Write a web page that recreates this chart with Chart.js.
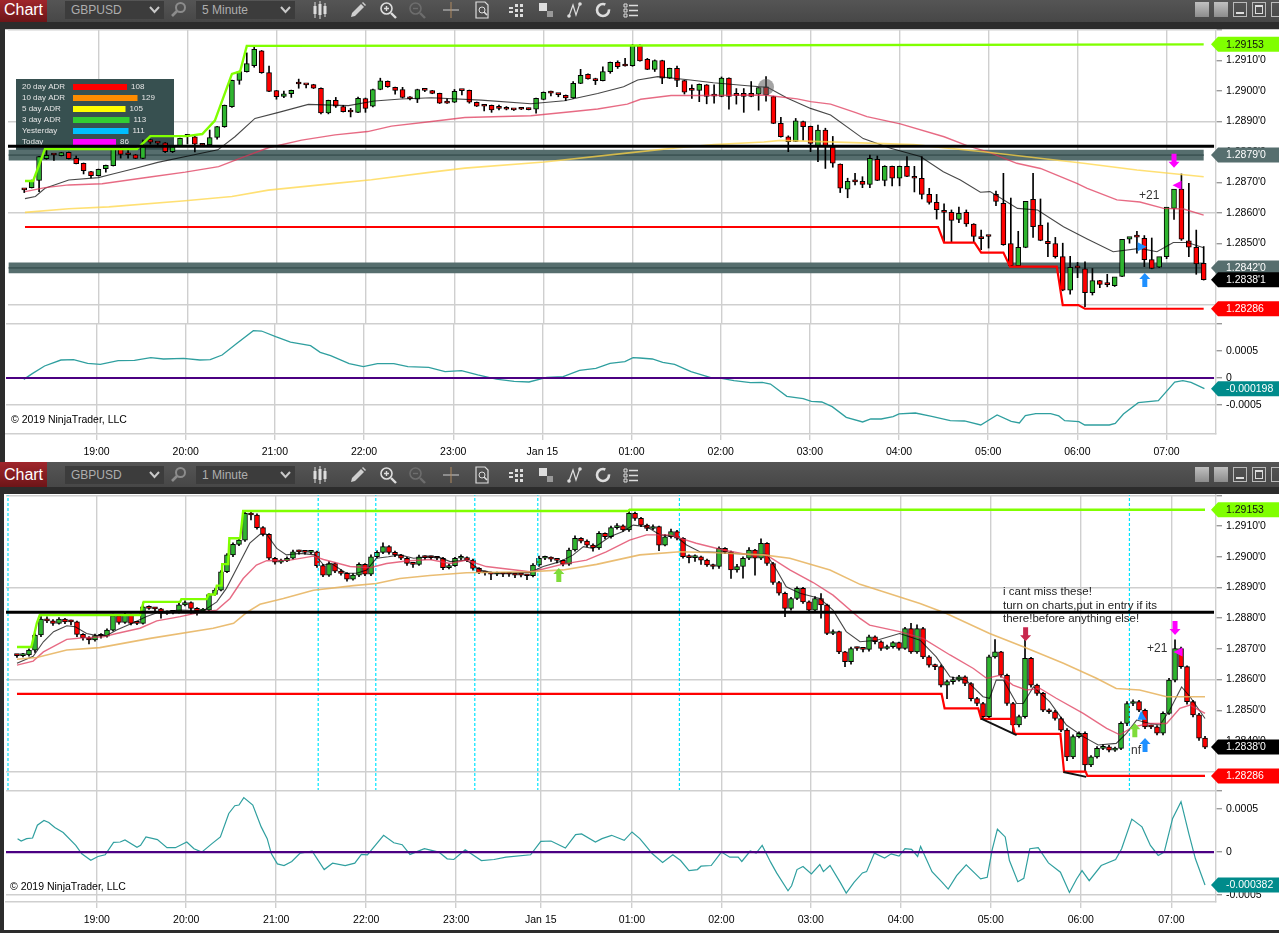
<!DOCTYPE html>
<html>
<head>
<meta charset="utf-8">
<title>GBPUSD</title>
<script src="https://cdn.jsdelivr.net/npm/chart.js@4/dist/chart.umd.js"></script>
<style>
  html, body { margin: 0; padding: 0; background: #2c2c2c; width: 1279px; height: 933px; overflow: hidden; font-family: "Liberation Sans", Arial, sans-serif; }
  .bar { position: absolute; left: 0; width: 1279px; background: linear-gradient(#555, #474747); }
  .chartBtn { position: absolute; left: 0; top: 0; bottom: 0; width: 47px; background: linear-gradient(#a0262c, #6d1518); color: #fff; font-size: 16px; text-align: center; }
  .sel { position: absolute; width: 99px; background: #3c3c3c; color: #aeaeae; font-size: 12px; box-sizing: border-box; padding-left: 6px; }
  .sel svg { position: absolute; right: 4px; top: 5px; }
  .ic { position: absolute; }
  .win { position: absolute; width: 14px; height: 15px; }
  .pane { position: absolute; background: #fff; }
  canvas { position: absolute; left: 0; }
</style>
</head>
<body>
<div class="bar" id="bar1" style="top:0;height:22px"></div>
<div class="bar" id="bar2" style="top:462px;height:25px"></div>
<div class="pane" style="left:5px;top:29px;width:1274px;height:433px;border-top:1px solid #ccc;box-sizing:border-box"></div>
<div class="pane" style="left:4px;top:494px;width:1275px;height:436px"></div>
<canvas id="topPrice" width="1279" height="318" style="top:18px"></canvas>
<canvas id="topOsc" width="1279" height="150" style="top:312px"></canvas>
<canvas id="botPrice" width="1279" height="320" style="top:483px"></canvas>
<canvas id="botOsc" width="1279" height="151" style="top:779px"></canvas>
<script>
// axis labels
const timeLabels = ["19:00","20:00","21:00","22:00","23:00","Jan 15","01:00","02:00","03:00","04:00","05:00","06:00","07:00"];
const topTimeTicks = [10,22,34,46,58,70,82,94,106,118,130,142,154];
const botTimeTicks = [13.3,28.2,43.2,58.2,73.2,87.3,102.5,117.4,132.3,147.3,162.3,177.3,192.4];
const priceTicks = [1.292,1.291,1.29,1.289,1.288,1.287,1.286,1.285,1.284,1.283];
const priceGrid = [1.292,1.289,1.286,1.283];
const hiddenPriceLabels = [1.292,1.283];

// top pane, 5 minute candles
const topOpen = [1.28678,1.28683,1.28707,1.28778,1.2879,1.28788,1.28799,1.28779,1.28763,1.28736,
1.28722,1.28745,1.28755,1.2881,1.28792,1.28791,1.28779,1.28841,1.2883,1.2883,
1.28801,1.28821,1.28852,1.2885,1.28827,1.28823,1.28848,1.28883,1.28949,1.29035,
1.29063,1.29083,1.29132,1.2906,1.29001,1.28982,1.28991,1.29024,1.29021,1.29021,
1.29009,1.28928,1.28969,1.28949,1.28932,1.2893,1.28975,1.2895,1.29005,1.29032,
1.29012,1.29005,1.28981,1.28973,1.29003,1.29001,1.28992,1.28963,1.28963,1.29002,
1.29002,1.28963,1.28951,1.28953,1.28944,1.28943,1.2894,1.28942,1.2894,1.2894,
1.28972,1.28995,1.2899,1.28986,1.28977,1.29025,1.29055,1.29041,1.29034,1.29063,
1.29094,1.29083,1.29083,1.2915,1.29104,1.29071,1.291,1.29042,1.29074,1.29034,
1.29003,1.29002,1.2902,1.28984,1.28982,1.29042,1.28992,1.28992,1.28992,1.2899,
1.29014,1.28982,1.28894,1.2885,1.28835,1.289,1.28884,1.2882,1.28872,1.28817,
1.2876,1.28678,1.28703,1.28704,1.28694,1.28776,1.28707,1.28753,1.28714,1.28753,
1.2872,1.28714,1.28661,1.28635,1.28609,1.28602,1.28579,1.28602,1.28564,1.28523,
1.28523,1.28661,1.28632,1.285,1.28427,1.28487,1.28645,1.2856,1.28507,1.285,
1.28457,1.28347,1.28421,1.28417,1.28339,1.28378,1.28366,1.28362,1.28392,1.28514,
1.28523,1.28517,1.28447,1.28422,1.28457,1.28615,1.28678,1.28509,1.28487,1.28435];
const topClose = [1.28676,1.28707,1.28785,1.28789,1.2879,1.28798,1.28778,1.28762,1.28739,1.28722,
1.28743,1.28756,1.2881,1.28792,1.28791,1.28779,1.28817,1.28832,1.28829,1.28801,
1.28817,1.28845,1.28851,1.28826,1.28822,1.28847,1.28883,1.28953,1.29035,1.29064,
1.2909,1.29137,1.2906,1.28999,1.28981,1.28991,1.29002,1.29023,1.2902,1.29009,
1.28928,1.28969,1.2895,1.28932,1.28931,1.28976,1.28943,1.29005,1.29033,1.29014,
1.29002,1.28979,1.28974,1.29005,1.29002,1.28992,1.2896,1.2896,1.28999,1.29001,
1.28963,1.2895,1.2895,1.28938,1.28943,1.2894,1.28938,1.2894,1.28939,1.28976,
1.28996,1.28993,1.28988,1.28977,1.29025,1.29051,1.2904,1.29034,1.29064,1.29094,
1.2908,1.29082,1.2915,1.29099,1.29071,1.291,1.29042,1.29074,1.29035,1.28996,
1.29002,1.29022,1.28982,1.28983,1.29042,1.28982,1.28985,1.28982,1.28982,1.29011,
1.28987,1.28894,1.2885,1.28834,1.28902,1.28883,1.28828,1.28872,1.2882,1.28763,
1.28681,1.28704,1.28702,1.28694,1.28779,1.28707,1.28753,1.28714,1.28753,1.2872,
1.28714,1.28661,1.28635,1.28611,1.28602,1.28576,1.28599,1.28564,1.28523,1.28516,
1.28523,1.28638,1.28496,1.28427,1.28487,1.28638,1.28555,1.2851,1.28499,1.28457,
1.28347,1.28422,1.2842,1.28339,1.28378,1.28366,1.28365,1.28391,1.28514,1.28523,
1.28521,1.28447,1.28418,1.28457,1.28619,1.28678,1.28514,1.28488,1.28433,1.28381];
const topHigh = [1.28679,1.28708,1.28786,1.2881,1.28792,1.28799,1.288,1.28787,1.28764,1.28737,
1.28744,1.28757,1.28811,1.28818,1.2881,1.28792,1.28839,1.28842,1.28831,1.28831,
1.28818,1.28846,1.28853,1.28851,1.28828,1.28872,1.28884,1.28954,1.29036,1.29065,
1.29125,1.29143,1.29133,1.29082,1.29002,1.29,1.29003,1.29039,1.29022,1.29022,
1.2901,1.2897,1.28979,1.28953,1.28943,1.2898,1.28977,1.29006,1.29042,1.29033,
1.29013,1.29012,1.28982,1.29006,1.29004,1.29002,1.28993,1.28974,1.29005,1.29003,
1.29003,1.28964,1.28952,1.28954,1.28954,1.28949,1.28941,1.28943,1.28944,1.28977,
1.28997,1.29,1.28991,1.28987,1.29031,1.29071,1.29056,1.29042,1.29079,1.29095,
1.29099,1.29107,1.29153,1.29152,1.29107,1.29102,1.29101,1.29075,1.29082,1.29035,
1.2902,1.29023,1.29021,1.2902,1.29046,1.29043,1.29008,1.29008,1.29031,1.29012,
1.29047,1.28983,1.28914,1.28853,1.2891,1.28901,1.28885,1.28888,1.28878,1.28851,
1.28761,1.28714,1.2873,1.28719,1.2879,1.28787,1.28755,1.28754,1.28754,1.28785,
1.28753,1.28785,1.28681,1.28661,1.2863,1.2861,1.28619,1.2861,1.28565,1.28544,
1.28525,1.28672,1.2873,1.28649,1.2854,1.28488,1.2873,1.28646,1.28568,1.2852,
1.28501,1.28458,1.28438,1.2844,1.28418,1.28379,1.28399,1.2838,1.28396,1.2852,
1.2854,1.28526,1.28518,1.28448,1.2848,1.2862,1.28728,1.28697,1.28544,1.2849];
const topLow = [1.28667,1.28682,1.2867,1.28776,1.28772,1.28787,1.28777,1.28761,1.28728,1.28715,
1.28721,1.28734,1.28754,1.2878,1.2878,1.28778,1.28778,1.28826,1.28819,1.28798,
1.28798,1.2882,1.28826,1.288,1.28821,1.28822,1.28842,1.28881,1.28946,1.29022,
1.29062,1.29078,1.29058,1.28998,1.28973,1.28978,1.28979,1.29009,1.2901,1.29008,
1.28925,1.28925,1.28946,1.28931,1.28915,1.28929,1.2893,1.28948,1.29004,1.29012,
1.2899,1.28977,1.28971,1.28962,1.28998,1.28991,1.28959,1.28959,1.28962,1.28987,
1.2896,1.28949,1.28935,1.2893,1.28938,1.28938,1.28936,1.28939,1.28938,1.28927,
1.28971,1.28984,1.28981,1.28968,1.28976,1.29024,1.29039,1.29021,1.29033,1.29058,
1.29074,1.29081,1.29081,1.29098,1.2907,1.29064,1.29024,1.29041,1.29014,1.2899,
1.28976,1.28965,1.28958,1.2896,1.28981,1.2894,1.28957,1.2893,1.28981,1.28937,
1.28967,1.28893,1.28849,1.28801,1.28834,1.28839,1.28801,1.28768,1.28746,1.2875,
1.28667,1.2865,1.28692,1.28683,1.28683,1.28706,1.28689,1.28689,1.28689,1.28719,
1.28669,1.28646,1.28629,1.2858,1.28506,1.28506,1.28568,1.28556,1.28506,1.2848,
1.28485,1.28624,1.28494,1.28425,1.28425,1.28486,1.2852,1.28509,1.28457,1.28452,
1.28345,1.28334,1.28388,1.28293,1.28331,1.28355,1.28358,1.28359,1.28391,1.28501,
1.28468,1.28424,1.28417,1.28421,1.2845,1.28579,1.2851,1.28457,1.28399,1.2838];

// top pane moving averages, x is the candle number
const topFastX = [0.1,1.5,2.8,6,10,11.8,14.9,18,22.1,26.1,28.4,31.1,34.3,38.3,43.7,47.2,50.8,54.9,61.6,68.3,72.8,77.3,80.8,82.7,85.4,89.8,92.9,97.5,100.2,102.9,106,108.7,113.1,116.8,120.8,123.9,126.2,128.9,130.2,133.9,136.6,140.1,143.3,146.8,150.4,152.7,154.9,156.8,159];
const topFastY = [1.28647,1.28654,1.28681,1.28708,1.28716,1.28727,1.28746,1.28766,1.28787,1.28807,1.2885,1.2891,1.2893,1.28956,1.28952,1.28967,1.28974,1.28978,1.2897,1.28958,1.28968,1.28992,1.29014,1.29036,1.29047,1.29036,1.29027,1.29017,1.29012,1.28976,1.28943,1.28921,1.28844,1.28812,1.28785,1.28735,1.28708,1.28668,1.2867,1.28615,1.2861,1.28555,1.28515,1.28473,1.28484,1.28473,1.28503,1.28503,1.28486];
const topMidX = [0.1,2.8,6,10.5,17.2,21.7,26.2,29.7,32.9,37.4,41.9,46.3,49.5,54.9,59.4,68.3,73.7,77.3,81.3,83.1,87.2,90.8,99.7,104.2,106,108.7,112,113.6,118.1,124,127.1,130.2,133.8,137,141.9,143.3,147.3,150.4,153.6,156.3,159];
const topMidY = [1.2867,1.28683,1.28692,1.28696,1.28719,1.28734,1.28752,1.28785,1.28814,1.28839,1.28856,1.28867,1.28885,1.289,1.28913,1.28919,1.28932,1.28941,1.28957,1.28973,1.28985,1.28985,1.28987,1.28974,1.28965,1.28957,1.2893,1.28916,1.28892,1.2885,1.28821,1.28798,1.28763,1.28746,1.28697,1.28681,1.28643,1.28636,1.28615,1.28613,1.28593];
const topSlowX = [0.1,6,11.4,21.7,28,32.9,41.9,46.8,54.9,59.4,70.1,81.8,88.1,93,99.7,102,112.8,119.9,129.3,142.8,150,159];
const topSlowY = [1.28602,1.28614,1.2862,1.2864,1.28654,1.28675,1.28697,1.28709,1.28734,1.28747,1.28767,1.28798,1.28814,1.28824,1.28833,1.28838,1.2883,1.28824,1.28801,1.28763,1.28741,1.28719];

// top pane levels
const topHighX = [0.1,1.2,2.8,15.2,17,21.9,24,25.7,28,29.1,30,81.6,159];
const topHighY = [1.28705,1.28705,1.2881,1.2881,1.28852,1.28852,1.28859,1.28903,1.29056,1.29064,1.29148,1.29149,1.29153];
const topLowX = [0.1,123.2,124,128.1,129,132,132.9,139.2,140,142.1,143,159];
const topLowY = [1.28554,1.28554,1.28503,1.28503,1.2847,1.2847,1.28424,1.28424,1.28298,1.28298,1.28286,1.28286];
const topBands = [1.2879,1.2842];
const topBlackLevel = 1.28819;
const topTouch = [100, 1.29013];

// top oscillator
const topOscX = [0.2,1.4,3,5.2,6.9,8.8,10.5,12.9,15.1,17.3,19,21.7,23.9,25.3,26.9,28.9,31.1,32.2,34.1,36.1,38.8,40.1,41.5,44,45.9,47.8,50,51.9,54.7,56.9,59.1,61.3,63.8,66.2,68.2,70.6,72.8,75,77.2,79.1,81.1,82.2,83.1,84.8,86.2,87.8,90,93,94.1,95.8,98,99.6,100.7,102.9,105.1,106.2,107.6,109,110.9,113.1,114.2,115.6,117.2,118,120.2,122.4,124.9,126.8,129,131.2,133.1,134.2,135,136.4,138.4,139.5,140.3,142.2,143,146.3,147.1,148.2,150.2,152.9,155.1,156.2,157.3,159.1];
const topOscY = [-0.000025,0.000086,0.000222,0.000333,0.000339,0.000271,0.000253,0.000321,0.000327,0.000376,0.000352,0.000364,0.000333,0.000339,0.000426,0.000642,0.000876,0.00087,0.000765,0.000666,0.000598,0.000475,0.000413,0.000265,0.00021,0.000265,0.000265,0.00021,0.000197,0.000117,0.000136,0.000056,-0.000019,-0.000062,-0.000074,0.000012,0.000025,0.000142,0.000179,0.000271,0.000302,0.000376,0.00037,0.000352,0.00029,0.000253,0.000117,-0.000006,-0.000006,-0.000049,-0.000086,-0.00008,-0.000111,-0.000339,-0.000383,-0.000432,-0.000444,-0.000531,-0.000728,-0.000814,-0.000759,-0.000759,-0.000716,-0.000666,-0.000648,-0.00071,-0.00079,-0.000796,-0.00087,-0.000685,-0.000802,-0.000833,-0.000697,-0.00066,-0.00066,-0.000703,-0.00079,-0.000808,-0.00087,-0.00087,-0.000839,-0.000666,-0.000457,-0.00042,-0.000074,-0.000049,-0.00008,-0.000198];

// ADR table in the top pane
const adrLabels = ["20 day ADR","10 day ADR","5 day ADR","3 day ADR","Yesterday","Today"];
const adrValues = [108,129,105,113,111,86];
const adrColors = ["#ff0000","#ff8c00","#ffff00","#32cd32","#00bfff","#ff00ff"];

// bottom pane, candles grouped from the 1 minute bars
const botOpen = [1.28678,1.28678,1.28680,1.28696,1.28745,1.28797,1.28791,1.28783,1.28797,1.28788,
1.28788,1.28747,1.28736,1.28729,1.28743,1.28741,1.28761,1.28808,1.28786,1.28812,
1.28783,1.28783,1.28837,1.28832,1.28830,1.28815,1.28819,1.28819,1.28843,1.28851,
1.28832,1.28823,1.28826,1.28877,1.28891,1.28951,1.29006,1.29040,1.29054,1.29141,
1.29136,1.29095,1.29073,1.28995,1.28982,1.28986,1.28995,1.29016,1.29016,1.29014,
1.29016,1.28971,1.28940,1.28978,1.28953,1.28946,1.28927,1.28940,1.28975,1.28943,
1.29000,1.29014,1.29033,1.29014,1.29006,1.28995,1.28978,1.28975,1.29000,1.28997,
1.28997,1.28995,1.28964,1.28971,1.28995,1.28997,1.28989,1.28962,1.28949,1.28947,
1.28943,1.28945,1.28943,1.28943,1.28940,1.28940,1.28938,1.28973,1.28995,1.28997,
1.28992,1.28988,1.28976,1.29022,1.29060,1.29051,1.29038,1.29029,1.29076,1.29065,
1.29095,1.29101,1.29087,1.29141,1.29125,1.29103,1.29092,1.29098,1.29038,1.29065,
1.29082,1.29060,1.29000,1.28997,1.29000,1.28989,1.28973,1.28968,1.29027,1.29016,
1.28957,1.28968,1.28995,1.29022,1.28995,1.29044,1.28978,1.28916,1.28881,1.28832,
1.28864,1.28897,1.28853,1.28826,1.28864,1.28843,1.28750,1.28756,1.28690,1.28658,
1.28701,1.28701,1.28698,1.28739,1.28723,1.28701,1.28707,1.28720,1.28701,1.28766,
1.28690,1.28766,1.28674,1.28647,1.28642,1.28582,1.28593,1.28598,1.28609,1.28587,
1.28538,1.28522,1.28479,1.28674,1.28690,1.28614,1.28522,1.28452,1.28479,1.28669,
1.28582,1.28555,1.28500,1.28495,1.28473,1.28435,1.28348,1.28414,1.28425,1.28322,
1.28348,1.28376,1.28381,1.28370,1.28376,1.28457,1.28522,1.28528,1.28500,1.28446,
1.28446,1.28425,1.28490,1.28598,1.28701,1.28642,1.28528,1.28485,1.28409];
const botClose = [1.28678,1.28680,1.28696,1.28745,1.28797,1.28791,1.28783,1.28797,1.28788,1.28788,
1.28747,1.28736,1.28729,1.28743,1.28741,1.28761,1.28808,1.28786,1.28812,1.28783,
1.28783,1.28837,1.28832,1.28830,1.28815,1.28819,1.28819,1.28843,1.28851,1.28832,
1.28823,1.28826,1.28877,1.28891,1.28951,1.29006,1.29040,1.29054,1.29141,1.29136,
1.29095,1.29073,1.28995,1.28982,1.28986,1.28995,1.29016,1.29016,1.29014,1.29016,
1.28971,1.28940,1.28978,1.28953,1.28946,1.28927,1.28940,1.28975,1.28943,1.29000,
1.29014,1.29033,1.29014,1.29006,1.28995,1.28978,1.28975,1.29000,1.28997,1.28997,
1.28995,1.28964,1.28971,1.28995,1.28997,1.28989,1.28962,1.28949,1.28947,1.28943,
1.28945,1.28943,1.28943,1.28940,1.28940,1.28938,1.28973,1.28995,1.28997,1.28992,
1.28988,1.28976,1.29022,1.29060,1.29051,1.29038,1.29029,1.29076,1.29065,1.29095,
1.29101,1.29087,1.29141,1.29125,1.29103,1.29092,1.29098,1.29038,1.29065,1.29082,
1.29060,1.29000,1.28997,1.29000,1.28989,1.28973,1.28968,1.29027,1.29016,1.28957,
1.28968,1.28995,1.29022,1.28995,1.29044,1.28978,1.28916,1.28881,1.28832,1.28864,
1.28897,1.28853,1.28826,1.28864,1.28843,1.28750,1.28756,1.28690,1.28658,1.28701,
1.28701,1.28698,1.28739,1.28723,1.28701,1.28707,1.28720,1.28701,1.28766,1.28690,
1.28766,1.28674,1.28647,1.28642,1.28582,1.28593,1.28598,1.28609,1.28587,1.28538,
1.28522,1.28479,1.28674,1.28690,1.28614,1.28522,1.28452,1.28479,1.28669,1.28582,
1.28555,1.28500,1.28495,1.28473,1.28435,1.28348,1.28414,1.28425,1.28322,1.28348,
1.28376,1.28381,1.28370,1.28376,1.28457,1.28522,1.28528,1.28500,1.28446,1.28446,
1.28425,1.28490,1.28598,1.28701,1.28642,1.28528,1.28485,1.28409,1.28380];
const botHigh = [1.28682,1.28685,1.28700,1.28750,1.28805,1.28804,1.28795,1.28802,1.28799,1.28794,
1.28790,1.28750,1.28740,1.28748,1.28750,1.28765,1.28813,1.28810,1.28818,1.28813,
1.28788,1.28850,1.28840,1.28835,1.28832,1.28824,1.28825,1.28848,1.28856,1.28853,
1.28834,1.28832,1.28880,1.28896,1.28955,1.29010,1.29045,1.29060,1.29148,1.29150,
1.29140,1.29098,1.29075,1.28998,1.28992,1.29000,1.29022,1.29022,1.29019,1.29020,
1.29018,1.28975,1.28984,1.28980,1.28958,1.28948,1.28945,1.28980,1.28978,1.29006,
1.29020,1.29045,1.29036,1.29018,1.29008,1.28998,1.28982,1.29005,1.29003,1.29002,
1.29000,1.28998,1.28976,1.28998,1.29006,1.29000,1.28992,1.28965,1.28953,1.28950,
1.28950,1.28948,1.28948,1.28946,1.28945,1.28943,1.28978,1.29002,1.29002,1.29000,
1.28994,1.28990,1.29028,1.29068,1.29062,1.29055,1.29042,1.29082,1.29078,1.29100,
1.29108,1.29104,1.29152,1.29145,1.29128,1.29106,1.29104,1.29100,1.29072,1.29090,
1.29086,1.29062,1.29006,1.29006,1.29002,1.28992,1.28976,1.29032,1.29030,1.29018,
1.28975,1.29000,1.29030,1.29024,1.29058,1.29046,1.28982,1.28920,1.28885,1.28868,
1.28902,1.28900,1.28856,1.28870,1.28880,1.28846,1.28762,1.28758,1.28692,1.28706,
1.28706,1.28704,1.28745,1.28742,1.28726,1.28712,1.28724,1.28722,1.28770,1.28783,
1.28778,1.28770,1.28678,1.28650,1.28648,1.28598,1.28608,1.28614,1.28612,1.28590,
1.28542,1.28526,1.28680,1.28730,1.28692,1.28618,1.28526,1.28484,1.28730,1.28672,
1.28585,1.28558,1.28505,1.28500,1.28478,1.28440,1.28420,1.28430,1.28430,1.28352,
1.28382,1.28388,1.28386,1.28380,1.28462,1.28528,1.28534,1.28532,1.28504,1.28452,
1.28450,1.28495,1.28604,1.28729,1.28706,1.28645,1.28532,1.28490,1.28415];
const botLow = [1.28672,1.28674,1.28676,1.28688,1.28740,1.28785,1.28776,1.28780,1.28782,1.28778,
1.28740,1.28728,1.28716,1.28725,1.28735,1.28738,1.28758,1.28780,1.28783,1.28778,
1.28779,1.28780,1.28828,1.28824,1.28800,1.28812,1.28814,1.28816,1.28840,1.28815,
1.28810,1.28820,1.28824,1.28874,1.28889,1.28948,1.29000,1.29036,1.29050,1.29120,
1.29090,1.29068,1.28990,1.28976,1.28978,1.28984,1.28992,1.29008,1.29008,1.29010,
1.28965,1.28935,1.28936,1.28948,1.28940,1.28920,1.28924,1.28935,1.28938,1.28938,
1.28996,1.29010,1.29008,1.29000,1.28990,1.28972,1.28965,1.28972,1.28990,1.28990,
1.28990,1.28958,1.28960,1.28968,1.28990,1.28984,1.28956,1.28945,1.28940,1.28925,
1.28938,1.28935,1.28936,1.28932,1.28934,1.28925,1.28934,1.28968,1.28990,1.28985,
1.28980,1.28970,1.28972,1.29018,1.29045,1.29032,1.29018,1.29024,1.29058,1.29060,
1.29090,1.29082,1.29082,1.29118,1.29098,1.29085,1.29088,1.29020,1.29035,1.29060,
1.29055,1.28995,1.28980,1.28985,1.28975,1.28968,1.28960,1.28962,1.29010,1.28929,
1.28950,1.28930,1.28990,1.28940,1.28990,1.28972,1.28910,1.28875,1.28805,1.28826,
1.28860,1.28848,1.28820,1.28820,1.28800,1.28746,1.28746,1.28684,1.28642,1.28650,
1.28695,1.28690,1.28692,1.28716,1.28695,1.28698,1.28702,1.28696,1.28698,1.28685,
1.28685,1.28668,1.28640,1.28632,1.28576,1.28538,1.28585,1.28595,1.28580,1.28530,
1.28515,1.28473,1.28476,1.28670,1.28608,1.28516,1.28424,1.28446,1.28474,1.28575,
1.28548,1.28495,1.28490,1.28468,1.28430,1.28336,1.28342,1.28410,1.28300,1.28316,
1.28344,1.28372,1.28364,1.28366,1.28372,1.28450,1.28515,1.28495,1.28440,1.28440,
1.28420,1.28420,1.28486,1.28592,1.28636,1.28520,1.28478,1.28402,1.28375];

// bottom pane moving averages
const botFastX = [0,2.7,4.4,6.1,8.3,9.7,11.6,13.3,14.9,16.6,19.4,21.6,23.8,27.2,31.1,33.3,34.9,37.2,38.8,40.5,41.6,43.3,44.9,47.2,49.7,51.1,52.4,54.9,56.6,58.3,59.9,61.9,63.8,66.1,68.8,70.5,72.2,74.9,77.2,79.9,85.5,87.7,90.5,92.7,94.4,96,98.8,101,102.7,104.9,107.2,109.9,111.6,113.8,116.6,121.6,124.9,126.6,128.2,130.5,133.8,136,138.2,140.5,143.3,147.1,150.5,153.2,155.5,158.2,161,162.1,163.2,164.4,166.6,167.7,169.4,172.1,174.9,177.7,180.2,183.2,184.9,186.6,188.8,190.5,192.1,194.1,195.5,198];
const botFastY = [1.28653,1.28676,1.28723,1.28756,1.28775,1.28772,1.2875,1.28743,1.28743,1.28761,1.28785,1.28805,1.28821,1.28826,1.28824,1.28853,1.28897,1.28984,1.29044,1.29073,1.29073,1.29027,1.29006,1.29011,1.29006,1.28973,1.28978,1.28946,1.28946,1.28957,1.28995,1.29,1.29006,1.28995,1.29,1.28997,1.28984,1.28989,1.28957,1.28946,1.28949,1.28968,1.28984,1.29006,1.29033,1.29027,1.29065,1.29082,1.29103,1.29098,1.29071,1.29065,1.29038,1.29016,1.29014,1.29008,1.29008,1.28957,1.28902,1.28881,1.28864,1.28826,1.28756,1.28723,1.28728,1.2875,1.28728,1.28674,1.28609,1.28598,1.28544,1.28539,1.28598,1.28598,1.28522,1.28522,1.28576,1.28528,1.28452,1.28414,1.28387,1.28392,1.28425,1.28468,1.28457,1.28452,1.285,1.28576,1.28544,1.28473];
const botMidX = [0,2.7,4.4,8.3,11.1,14.4,16.6,20.5,23.3,27.2,30.5,33.3,35.5,37.7,39.9,41.6,45.5,49.4,51.1,55.5,58.8,61.6,64.9,68.8,72.2,74.9,78.2,85.5,87.7,91,94.9,98.2,102.1,104.9,108.8,113.2,117.7,122.1,124.9,128.8,132.7,136,140.5,142.1,147.1,151,155.5,159.4,161.6,163.8,166,168.2,170.5,173.2,177.7,181.6,183.8,186,188.8,191.6,193.8,195.5,198];
const botMidY = [1.28647,1.2866,1.2869,1.28731,1.28736,1.28739,1.2875,1.28767,1.28791,1.28805,1.28819,1.28826,1.28864,1.28929,1.28973,1.28987,1.28989,1.29002,1.28991,1.28968,1.28964,1.28978,1.28986,1.28991,1.28978,1.28989,1.28968,1.28951,1.2896,1.28976,1.28989,1.29016,1.29054,1.29071,1.29071,1.29044,1.29022,1.29006,1.29006,1.28957,1.28916,1.28875,1.28799,1.28777,1.28756,1.28734,1.2868,1.28636,1.28604,1.28614,1.28582,1.28566,1.28571,1.28539,1.2849,1.28441,1.2842,1.28446,1.28457,1.28457,1.28506,1.28517,1.2849];
const botSlowX = [0,3.3,8.3,13.8,22.2,32.7,36.1,38.3,40.5,44.4,49.4,56.1,59.9,63.8,68.8,74.9,85.5,91,96.6,103.8,110.5,116.6,124.4,128.8,135.5,140.5,144.4,150.5,154.9,162.1,167.7,174.4,179.9,183.2,187.1,191.6,198];
const botSlowY = [1.28666,1.28672,1.28696,1.28704,1.28734,1.28767,1.28783,1.28819,1.28845,1.28864,1.28891,1.28906,1.28913,1.28929,1.28939,1.28948,1.28951,1.28957,1.28975,1.29006,1.29016,1.29013,1.29006,1.28995,1.28957,1.2891,1.28886,1.28848,1.28815,1.2875,1.28707,1.28653,1.28604,1.28571,1.28566,1.28544,1.28544];

// bottom pane levels
const botHighX = [0,2.4,3.3,3.8,20.5,21.1,27.2,27.4,31.6,31.9,33,33.3,34.1,34.2,35.2,35.4,37.2,37.7,101.9,102.1,198];
const botHighY = [1.28706,1.28706,1.28783,1.2881,1.2881,1.28853,1.28853,1.28862,1.28862,1.28877,1.28877,1.28906,1.28906,1.28976,1.28976,1.2906,1.2906,1.29149,1.29149,1.29153,1.29153];
const botLowX = [0,154.1,154.6,160.2,160.7,165.7,166.3,173.9,174.5,178.1,178.4,198];
const botLowY = [1.28553,1.28553,1.28506,1.28506,1.28472,1.28472,1.28423,1.28423,1.283,1.283,1.28286,1.28286];
const botBlackLevel = 1.28819;
const botTrendA = [[160.7,1.28473],[166.6,1.28419]];
const botTrendB = [[174.4,1.28299],[178.2,1.28283]];
const botSessionLines = [-1.5,50.2,59.8,76.3,86.8,110.4,185.4];

// bottom oscillator
const botOscX = [0.1,0.7,1.6,2.6,3.4,4.5,5.3,6.3,7.7,9.8,10.8,12.3,13.5,14.7,16.1,17.2,18,20,20.6,21.5,23.4,25,26.4,28.3,29.5,30.8,32.5,33.9,35.3,36.3,37,37.8,39.3,40.7,41.7,42.4,43.4,44.5,45.8,47.2,49.2,51.2,52.6,54.7,56.3,57.4,58.4,61.1,62.8,64.2,65.5,67.9,70.3,71.7,72.8,74.7,75.7,77.4,79.5,81.5,85.6,87.3,89,91.4,93.1,94.1,96.4,97.5,99.1,101.2,102.5,103.8,104.5,105.9,107.6,109.3,110.6,112,113.4,114,115.7,117.4,118.8,120.2,120.8,122.2,123.2,124.2,125.6,126.6,128.5,129.1,130,131,132.4,133.8,134.4,135.5,137.2,138.2,139.5,140.9,141.6,142.9,144.6,145.7,147,148,149.1,150.1,150.6,152.5,154.2,155.2,156.6,158.2,160.6,161.7,162.5,163.4,164.7,165.4,166.8,167.8,168.8,170.2,171.9,173.9,175.4,176.6,177.5,178.7,180.7,183.1,184.1,185.8,187.5,188.9,190.2,191.2,192.6,194,195.3,196.4,198];
const botOscY = [0.000156,0.000129,0.000156,0.000164,0.000312,0.000367,0.000344,0.000285,0.000227,0.000078,-0.00002,-0.000094,-0.000051,-0.000031,0.000113,0.000117,0.000141,0.000055,0.000078,0.000176,0.000145,0.000051,0.000051,0.000117,0.000039,0,0.000098,0.000176,0.000449,0.000539,0.000547,0.000633,0.000547,0.000293,0.000156,-0.00002,-0.000137,-0.000156,-0.000109,-0.000012,0.000012,-0.000203,-0.000129,-0.000156,-0.000129,-0.000027,-0.000031,0.000195,0.000109,0.000086,-0.000027,0.000039,0,-0.000078,-0.000086,0.000027,-0.00002,-0.000098,-0.000086,-0.000059,-0.000031,0.000125,0.000129,0.000047,0.000203,0.000211,0.000117,0.000156,0.000195,0.000137,0.000234,0.000156,0.000098,-0.00002,-0.000121,-0.000031,-0.000098,-0.000215,-0.000203,-0.000164,-0.000156,0,-0.000059,-0.000059,-0.000109,0.000012,-0.000012,0.000078,-0.000117,-0.000242,-0.000449,-0.000391,-0.000203,-0.000168,-0.000254,-0.000145,-0.000227,-0.000156,-0.000352,-0.000477,-0.000352,-0.000242,-0.000227,-0.000012,-0.00007,-0.00002,-0.000047,0.000039,0.000031,-0.000051,0.000066,-0.000227,-0.000352,-0.00043,-0.000273,-0.000148,-0.000312,-0.000293,0.00002,0.000266,0.000176,-0.000098,-0.000344,-0.000305,0.000039,0.000051,-0.000125,-0.000234,-0.000469,-0.000312,-0.000215,-0.000332,-0.000156,-0.000086,0.000039,0.000383,0.000293,0.000078,-0.000039,0,0.000391,0.000586,0.000215,-0.000078,-0.000382];

// markers drawn on the price panes: x, price, kind, colour
const topArrows = [[155,1.28748,"down","#ff00ff"],[151.06,1.28403,"up","#1e90ff"]];
const topTriangles = [[150.7,1.28489,"right","#1e90ff"],[155.4,1.28691,"left","#ff00ff"]];
const botArrows = [[90.3,1.28963,"up","#7fdc3a"],[168.1,1.28725,"down","#c8284e"],[193,1.28745,"down","#ff00ff"],[186.3,1.28458,"up","#7fdc3a"],[188,1.2841,"up","#1e90ff"]];
const botTriangles = [[187.5,1.28484,"upleft","#1e90ff"],[193.5,1.2869,"left","#ff00ff"]];
const noteLines = ["i cant miss these!","turn on charts,put in entry if its","there!before anything else!"];
const copyrightText = "\u00a9 2019 NinjaTrader, LLC";

const FONT = '"Liberation Sans", Arial, sans-serif';
const GRID = "#cfcfcf";

function pairs(xs, ys) {
  return xs.map((x, i) => ({ x: x, y: ys[i] }));
}

function lineSet(data, color, width, order, extra) {
  return Object.assign({
    type: "line", data: data, borderColor: color, borderWidth: width, order: order,
    pointRadius: 0, tension: 0, fill: false, spanGaps: true
  }, extra || {});
}

// wicks and bodies are two floating bar sets laid over each other
function candleSets(o, c, h, l, bodyWidth) {
  const wicks = h.map((v, i) => ({ x: i, y: [l[i], v] }));
  const bodies = o.map((v, i) => ({ x: i, y: [v, c[i]] }));
  const fills = o.map((v, i) => (c[i] > v ? "#2fb52f" : "#ff0000"));
  return [
    { type: "bar", data: wicks, backgroundColor: "#000", barThickness: 1, grouped: false, order: 8 },
    { type: "bar", data: bodies, backgroundColor: fills, borderColor: "#000", borderWidth: 1, borderSkipped: false,
      barThickness: bodyWidth, minBarLength: 2, grouped: false, order: 7 }
  ];
}

function near(a, b) { return Math.abs(a - b) < 1e-7; }

function xAxis(min, max, ticks, showLabels) {
  return {
    type: "linear", min: min, max: max, offset: false,
    grid: { offset: false, color: GRID, lineWidth: 1.4, drawTicks: showLabels, tickLength: 6, tickColor: GRID },
    border: { display: showLabels, color: GRID, width: 1.4 },
    ticks: {
      display: showLabels, autoSkip: false, maxRotation: 0, padding: 6, color: "#000",
      font: { family: FONT, size: 10.5 },
      callback: (v, i) => timeLabels[i]
    },
    afterBuildTicks: s => { s.ticks = ticks.map(v => ({ value: v })); },
    afterFit: s => { s.height = showLabels ? 28 : 0; }
  };
}

function priceAxis(min, max) {
  return {
    type: "linear", position: "right", min: min, max: max,
    grid: {
      lineWidth: 1.4, tickLength: 6, tickColor: "#9a9a9a",
      color: c => (priceGrid.some(v => near(v, c.tick.value)) ? GRID : "rgba(0,0,0,0)")
    },
    border: { color: GRID, width: 1.4 },
    ticks: {
      autoSkip: false, padding: 4, color: "#000", font: { family: FONT, size: 10.5 },
      callback: v => (hiddenPriceLabels.some(h => near(h, v)) ? "" : v.toFixed(4) + "'0")
    },
    afterBuildTicks: s => { s.ticks = priceTicks.map(v => ({ value: v })); },
    afterFit: s => { s.width = 63; }
  };
}

function oscAxis(min, max, ticks, gridAt) {
  return {
    type: "linear", position: "right", min: min, max: max,
    grid: {
      lineWidth: 1.4, tickLength: 6, tickColor: "#9a9a9a",
      color: c => (gridAt.some(v => near(v, c.tick.value)) ? GRID : "rgba(0,0,0,0)")
    },
    border: { color: GRID, width: 1.4 },
    ticks: {
      autoSkip: false, padding: 4, color: "#000", font: { family: FONT, size: 10.5 },
      callback: v => (near(v, max) ? "" : near(v, 0) ? "0" : v.toFixed(4))
    },
    afterBuildTicks: s => { s.ticks = ticks.map(v => ({ value: v })); },
    afterFit: s => { s.width = 63; }
  };
}

function drawFlag(chart, value, text, fill, ink) {
  const ctx = chart.ctx;
  const y = chart.scales.y.getPixelForValue(value);
  ctx.beginPath();
  ctx.moveTo(1211, y);
  ctx.lineTo(1218, y - 7.5);
  ctx.lineTo(1279, y - 7.5);
  ctx.lineTo(1279, y + 7.5);
  ctx.lineTo(1218, y + 7.5);
  ctx.closePath();
  ctx.fillStyle = fill;
  ctx.fill();
  ctx.fillStyle = ink;
  ctx.font = "10.5px " + FONT;
  ctx.textAlign = "left";
  ctx.textBaseline = "middle";
  ctx.fillText(text, 1226, y + 0.5);
}

function drawArrow(chart, m) {
  const ctx = chart.ctx;
  const x = chart.scales.x.getPixelForValue(m[0]);
  const y = chart.scales.y.getPixelForValue(m[1]);
  const d = m[2] === "up" ? 1 : -1;
  ctx.beginPath();
  ctx.moveTo(x, y);
  ctx.lineTo(x + 5.5, y + 6 * d);
  ctx.lineTo(x + 2.5, y + 6 * d);
  ctx.lineTo(x + 2.5, y + 14 * d);
  ctx.lineTo(x - 2.5, y + 14 * d);
  ctx.lineTo(x - 2.5, y + 6 * d);
  ctx.lineTo(x - 5.5, y + 6 * d);
  ctx.closePath();
  ctx.fillStyle = m[3];
  ctx.fill();
}

function drawTriangle(chart, m) {
  const ctx = chart.ctx;
  const x = chart.scales.x.getPixelForValue(m[0]);
  const y = chart.scales.y.getPixelForValue(m[1]);
  const s = 4.5;
  ctx.beginPath();
  if (m[2] === "right") { ctx.moveTo(x + s, y); ctx.lineTo(x - s, y - s); ctx.lineTo(x - s, y + s); }
  else if (m[2] === "left") { ctx.moveTo(x - s, y); ctx.lineTo(x + s, y - s); ctx.lineTo(x + s, y + s); }
  else { ctx.moveTo(x - 1, y - s); ctx.lineTo(x + s, y + s); ctx.lineTo(x - s, y + s); }
  ctx.closePath();
  ctx.fillStyle = m[3];
  ctx.fill();
}

function drawText(chart, text, x, y, size, color) {
  const ctx = chart.ctx;
  ctx.fillStyle = color;
  ctx.font = size + "px " + FONT;
  ctx.textAlign = "left";
  ctx.textBaseline = "middle";
  ctx.fillText(text, x, y);
}

function adrPanel(chart) {
  const ctx = chart.ctx;
  ctx.save();
  ctx.fillStyle = "#375050";
  ctx.fillRect(16, 61, 158, 71);
  adrLabels.forEach((label, i) => {
    const y = 69 + i * 11;
    drawText(chart, label, 22, y, 8, "#e6e6e6");
    const w = adrValues[i] * 0.5;
    ctx.fillStyle = adrColors[i];
    ctx.fillRect(73, y - 3, w, 6);
    drawText(chart, String(adrValues[i]), 73 + w + 4, y, 8, "#e6e6e6");
  });
  ctx.restore();
}

// the 12px padding beats the label overhang, so the plot area sits at a known place in each canvas
function makeChart(id, datasets, scales, bottomPad, before, after) {
  return new Chart(document.getElementById(id), {
    type: "bar",
    data: { datasets: datasets },
    options: {
      responsive: false, animation: false, devicePixelRatio: 1,
      layout: { padding: { left: 6, right: 0, top: 12, bottom: bottomPad } },
      plugins: { legend: { display: false }, tooltip: { enabled: false } },
      scales: scales
    },
    plugins: [{
      id: "overlay",
      beforeDatasetsDraw(chart) { if (before) before(chart); },
      afterDraw(chart) { if (after) after(chart); }
    }]
  });
}

// top price pane
const topXMin = -2.19, topXMax = 160.66;
const topSets = candleSets(topOpen, topClose, topHigh, topLow, 5);
topBands.forEach(level => {
  const span = [{ x: -2.1, y: level }, { x: 159, y: level }];
  topSets.push(lineSet(span, "#566e6e", 10.7, 10));
  topSets.push(lineSet(span, "#3e5656", 1.8, 9));
});
topSets.push(lineSet(pairs(topSlowX, topSlowY), "rgba(255,214,70,0.75)", 1.6, 5));
topSets.push(lineSet(pairs(topMidX, topMidY), "rgba(222,50,85,0.72)", 1.4, 5));
topSets.push(lineSet(pairs(topFastX, topFastY), "rgba(0,0,0,0.72)", 1.1, 5));
topSets.push(lineSet(pairs(topHighX, topHighY), "#80ff00", 2.4, 4));
topSets.push(lineSet(pairs(topLowX, topLowY), "#ff0000", 2.2, 4));
topSets.push(lineSet([{ x: topXMin, y: topBlackLevel }, { x: 160.4, y: topBlackLevel }], "#000", 3, 3));
topSets.push(lineSet([{ x: topTouch[0], y: topTouch[1] }], "rgba(0,0,0,0)", 0, 1,
  { showLine: false, pointRadius: 8, pointBackgroundColor: "rgba(90,90,90,0.55)", pointBorderWidth: 0 }));

makeChart("topPrice", topSets, { x: xAxis(topXMin, topXMax, topTimeTicks, false), y: priceAxis(1.28236, 1.292) }, 12, adrPanel, chart => {
  topArrows.forEach(m => drawArrow(chart, m));
  topTriangles.forEach(m => drawTriangle(chart, m));
  drawText(chart, "+21", 1139, 177.5, 12, "#333");
  drawFlag(chart, 1.29153, "1.29153", "#80ff00", "#111");
  drawFlag(chart, 1.2879, "1.2879'0", "#566e6e", "#fff");
  drawFlag(chart, 1.2842, "1.2842'0", "#566e6e", "#fff");
  drawFlag(chart, 1.28381, "1.2838'1", "#000", "#fff");
  drawFlag(chart, 1.28286, "1.28286", "#ff0000", "#fff");
});

// top oscillator pane
const topOscSets = [
  lineSet(pairs(topOscX, topOscY), "#2f9f9f", 1.3, 5),
  lineSet([{ x: topXMin, y: 0 }, { x: 160.4, y: 0 }], "#4b0082", 2.2, 3)
];
makeChart("topOsc", topOscSets, {
  x: xAxis(topXMin, topXMax, topTimeTicks, true),
  y: oscAxis(-0.001037, 0.001, [0.001, 0.0005, 0, -0.0005], [0.001, -0.0005])
}, 0, null, chart => {
  drawText(chart, copyrightText, 11, 108.5, 10.5, "#000");
  drawFlag(chart, -0.000198, "-0.000198", "#008b8b", "#fff");
});

// bottom price pane
const botXMin = -1.83, botXMax = 199.83;
const botSets = candleSets(botOpen, botClose, botHigh, botLow, 5);
botSets.push(lineSet(pairs(botSlowX, botSlowY), "rgba(230,178,90,0.85)", 1.6, 5));
botSets.push(lineSet(pairs(botMidX, botMidY), "rgba(222,50,85,0.72)", 1.4, 5));
botSets.push(lineSet(pairs(botFastX, botFastY), "rgba(0,0,0,0.72)", 1.1, 5));
botSets.push(lineSet(pairs(botHighX, botHighY), "#80ff00", 2.4, 4));
botSets.push(lineSet(pairs(botLowX, botLowY), "#ff0000", 2.2, 4));
botSets.push(lineSet([{ x: botXMin, y: botBlackLevel }, { x: 199.5, y: botBlackLevel }], "#000", 3, 3));
[botTrendA, botTrendB].forEach(t => {
  botSets.push(lineSet(t.map(p => ({ x: p[0], y: p[1] })), "#111", 2, 3));
});
botSessionLines.forEach(x => {
  botSets.push(lineSet([{ x: x, y: 1.28237 }, { x: x, y: 1.292 }], "#00e5ff", 1.2, 6, { borderDash: [3, 2] }));
});

makeChart("botPrice", botSets, { x: xAxis(botXMin, botXMax, botTimeTicks, false), y: priceAxis(1.28237, 1.29201) }, 12, null, chart => {
  botArrows.forEach(m => drawArrow(chart, m));
  botTriangles.forEach(m => drawTriangle(chart, m));
  noteLines.forEach((t, i) => drawText(chart, t, 1003, 109 + i * 13.6, 11.5, "#222"));
  drawText(chart, "+21", 1147, 166, 12, "#333");
  drawText(chart, "nf", 1131, 268, 12, "#333");
  drawFlag(chart, 1.29153, "1.29153", "#80ff00", "#111");
  drawFlag(chart, 1.2838, "1.2838'0", "#000", "#fff");
  drawFlag(chart, 1.28286, "1.28286", "#ff0000", "#fff");
});

// bottom oscillator pane
const botOscSets = [
  lineSet(pairs(botOscX, botOscY), "#2f9f9f", 1.2, 5),
  lineSet([{ x: botXMin, y: 0 }, { x: 199.5, y: 0 }], "#4b0082", 2.2, 3)
];
makeChart("botOsc", botOscSets, {
  x: xAxis(botXMin, botXMax, botTimeTicks, true),
  y: oscAxis(-0.00058, 0.00071, [0.00071, 0.0005, 0, -0.0005], [0.00071, -0.0005])
}, 0, null, chart => {
  drawText(chart, copyrightText, 10, 108.5, 10.5, "#000");
  drawFlag(chart, -0.000382, "-0.000382", "#008b8b", "#fff");
});

// toolbars
const toolIcons = {
  candles: '<path d="M4 1v16M9 0v18M14 2v14" stroke="#ddd"/><rect x="2.5" y="5" width="3" height="8" fill="#ddd"/><rect x="7.5" y="3" width="3" height="11" fill="#ddd"/><rect x="12.5" y="5" width="3" height="8" fill="#ddd"/>',
  pencil: '<path d="M2 16l1-4 9-9 3 3-9 9z" fill="#cfcfcf"/><path d="M13 2l1-1 3 3-1 1z" fill="#cfcfcf"/>',
  zoomIn: '<circle cx="7.5" cy="7.5" r="5.5" fill="none" stroke="#ddd" stroke-width="1.6"/><path d="M5 7.5h5M7.5 5v5" stroke="#ddd" stroke-width="1.4"/><path d="M12 12l5 5" stroke="#ddd" stroke-width="2.4"/>',
  zoomOut: '<circle cx="7.5" cy="7.5" r="5.5" fill="none" stroke="#6d6d6d" stroke-width="1.6"/><path d="M5 7.5h5" stroke="#6d6d6d" stroke-width="1.4"/><path d="M12 12l5 5" stroke="#6d6d6d" stroke-width="2.4"/>',
  cross: '<path d="M1 9h16" stroke="#ccc"/><path d="M9 1v16" stroke="#b08a60"/>',
  report: '<path d="M3 1h9l3 3v13H3z" fill="none" stroke="#ddd" stroke-width="1.2"/><circle cx="9" cy="9" r="3" fill="none" stroke="#ddd"/><path d="M11 11l3 3" stroke="#ddd" stroke-width="1.6"/>',
  grid: '<path d="M2 6h4v2H2zM2 10h4v2H2zM8 3h3v3H8zM8 8h3v3H8zM8 13h3v3H8zM13 3h3v3h-3zM13 8h3v3h-3zM13 13h3v3h-3z" fill="#ddd"/>',
  stack: '<path d="M2 2h8v8H2z" fill="#ddd"/><path d="M10 10h6v6h-6z" fill="#999"/>',
  draw: '<path d="M4 15L8 4l3 10 4-12" fill="none" stroke="#ddd" stroke-width="1.2"/><circle cx="4" cy="15" r="1.8" fill="#ddd"/><circle cx="15" cy="3" r="1.8" fill="#ddd"/>',
  reload: '<circle cx="9" cy="9" r="6" fill="none" stroke="#ddd" stroke-width="2.6" stroke-dasharray="30 6"/>',
  list: '<path d="M2 3h3v3H2zM2 8h3v3H2zM2 13h3v3H2z" fill="none" stroke="#ddd"/><path d="M7 4.5h9M7 9.5h9M7 14.5h9" stroke="#ddd" stroke-width="1.4"/>',
  glass: '<circle cx="10.5" cy="6.5" r="4.5" fill="none" stroke="#8c8c8c" stroke-width="2"/><path d="M7 10l-5 5" stroke="#8c8c8c" stroke-width="2.6"/>'
};
const toolOrder = [[170,"glass"],[311,"candles"],[349,"pencil"],[379,"zoomIn"],[408,"zoomOut"],[442,"cross"],[473,"report"],[507,"grid"],[537,"stack"],[565,"draw"],[594,"reload"],[622,"list"]];
const caret = '<svg width="11" height="8" viewBox="0 0 11 8"><path d="M1 1l4.5 5L10 1" fill="none" stroke="#c8c8c8" stroke-width="2"/></svg>';

function fillBar(id, interval, top, selH) {
  let html = '<div class="chartBtn" style="line-height:' + (top * 2 + selH) + 'px">Chart</div>';
  html += '<div class="sel" style="left:65px;top:' + top + 'px;height:' + selH + 'px;line-height:' + selH + 'px">GBPUSD' + caret + '</div>';
  html += '<div class="sel" style="left:196px;top:' + top + 'px;height:' + selH + 'px;line-height:' + selH + 'px">' + interval + caret + '</div>';
  toolOrder.forEach(t => {
    html += '<svg class="ic" width="18" height="18" viewBox="0 0 18 18" style="left:' + t[0] + 'px;top:' + (top) + 'px">' + toolIcons[t[1]] + '</svg>';
  });
  [[1195, "sq"], [1214, "sq"], [1233, "min"], [1252, "max"], [1271, "x"]].forEach(b => {
    let inner = "";
    let style = "background:linear-gradient(#c0c0c0,#8c8c8c)";
    if (b[1] !== "sq") style = "border:1px solid #bbb;box-sizing:border-box";
    if (b[1] === "min") inner = '<div style="position:absolute;left:2px;right:2px;bottom:2px;height:2px;background:#ddd"></div>';
    if (b[1] === "max") inner = '<div style="position:absolute;left:2px;right:2px;top:2px;bottom:2px;border:1px solid #ddd;border-top-width:2px"></div>';
    html += '<div class="win" style="left:' + b[0] + 'px;top:' + (top + 1) + 'px;' + style + '">' + inner + '</div>';
  });
  document.getElementById(id).innerHTML = html;
}
fillBar("bar1", "5 Minute", 1, 18);
fillBar("bar2", "1 Minute", 4, 18);
</script>
</body>
</html>
